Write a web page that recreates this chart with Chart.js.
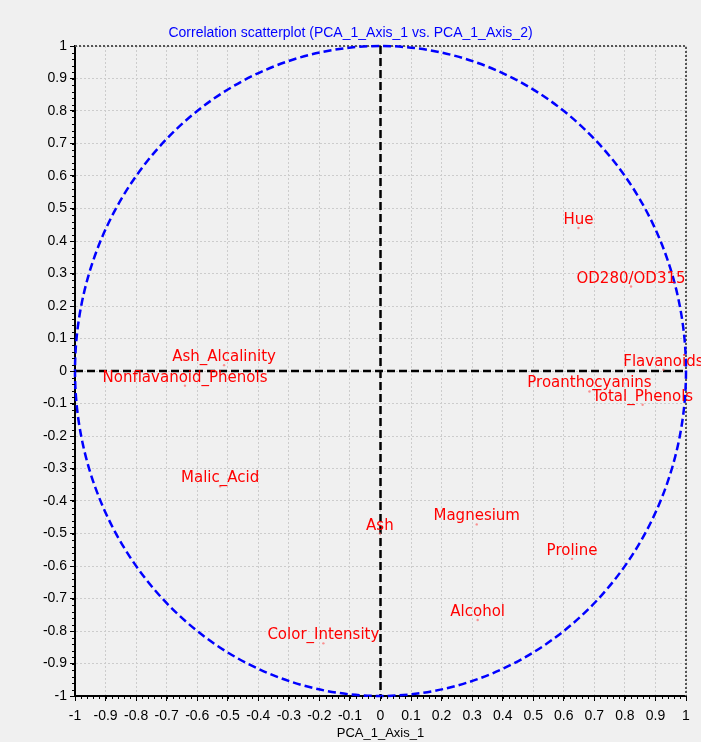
<!DOCTYPE html>
<html>
<head>
<meta charset="utf-8">
<script src="https://cdn.jsdelivr.net/npm/chart.js@4"></script>
<style>
    body { margin: 0; background: #f0f0f0; }
    #wrap { width: 701px; height: 742px; }
</style>
</head>
<body>
<div id="wrap"><canvas id="myChart" width="701" height="742"></canvas></div>
<script>
// variables of the wine dataset and their correlations with the two axes
const variableNames = ['Alcohol', 'Malic_Acid', 'Ash', 'Ash_Alcalinity', 'Magnesium', 'Total_Phenols',
    'Flavanoids', 'Nonflavanoid_Phenols', 'Proanthocyanins', 'Color_Intensity', 'Hue', 'OD280/OD315', 'Proline'];
const axis1Values = [0.318, -0.525, -0.002, -0.512, 0.315, 0.858, 0.926, -0.640, 0.684, -0.187, 0.648, 0.820, 0.627];
const axis2Values = [-0.766, -0.355, -0.500, 0.018, -0.472, -0.104, 0.004, -0.045, -0.063, -0.838, 0.440, 0.260, -0.578];

const tickValues = [-1, -0.9, -0.8, -0.7, -0.6, -0.5, -0.4, -0.3, -0.2, -0.1, 0, 0.1, 0.2, 0.3, 0.4, 0.5, 0.6, 0.7, 0.8, 0.9, 1];
const tickLabels = ['-1', '-0.9', '-0.8', '-0.7', '-0.6', '-0.5', '-0.4', '-0.3', '-0.2', '-0.1', '0',
    '0.1', '0.2', '0.3', '0.4', '0.5', '0.6', '0.7', '0.8', '0.9', '1'];

const ctx = document.getElementById('myChart').getContext('2d');

// circle, zero lines, minor ticks, frame
const decorPlugin = {
    id: 'decor',
    beforeDatasetsDraw(chart) {
        const c = chart.ctx;
        const xs = chart.scales.x, ys = chart.scales.y;
        const a = chart.chartArea;
        const cx = xs.getPixelForValue(0), cy = ys.getPixelForValue(0);
        c.save();
        // frame top / right
        c.strokeStyle = '#555';
        c.lineWidth = 2;
        c.setLineDash([2, 2]);
        c.beginPath();
        c.moveTo(a.left, a.top);
        c.lineTo(a.right, a.top);
        c.lineTo(a.right, a.bottom);
        c.stroke();
        // zero lines
        c.strokeStyle = '#000';
        c.lineWidth = 2.5;
        c.setLineDash([8, 4]);
        c.beginPath();
        c.moveTo(a.left, cy);
        c.lineTo(a.right, cy);
        c.moveTo(cx, a.top);
        c.lineTo(cx, a.bottom);
        c.stroke();
        // unit circle
        c.strokeStyle = '#0000ff';
        c.lineWidth = 2.5;
        c.setLineDash([8, 4]);
        c.beginPath();
        c.ellipse(cx, cy, xs.getPixelForValue(1) - cx, cy - ys.getPixelForValue(1), 0, 0, Math.PI * 2);
        c.stroke();
        c.restore();
    },
    afterDraw(chart) {
        const c = chart.ctx;
        const xs = chart.scales.x, ys = chart.scales.y;
        const a = chart.chartArea;
        c.save();
        c.strokeStyle = '#000';
        c.lineWidth = 1;
        c.beginPath();
        for (let i = -50; i <= 50; i++) {
            const px = Math.round(xs.getPixelForValue(i / 50)) + 0.5;
            c.moveTo(px, a.bottom);
            c.lineTo(px, a.bottom + 3);
            const py = Math.round(ys.getPixelForValue(i / 50)) + 0.5;
            c.moveTo(a.left - 3, py);
            c.lineTo(a.left, py);
        }
        c.stroke();

        // point labels
        const meta = chart.getDatasetMeta(0);
        c.font = '15px "DejaVu Sans"';
        c.fillStyle = '#ff0000';
        c.textAlign = 'center';
        c.textBaseline = 'alphabetic';
        meta.data.forEach((pt, i) => {
            c.fillText(variableNames[i], pt.x, pt.y - 4);
        });
        c.restore();
    }
};

function axisOptions(isX) {
    return {
        type: 'linear',
        min: -1,
        max: 1,
        afterBuildTicks: (scale) => {
            scale.ticks = tickValues.map(v => ({ value: v }));
        },
        afterFit: (scale) => {
            if (isX) scale.height = 46; else scale.width = 75;
        },
        ticks: {
            color: '#000',
            font: { family: '"Liberation Sans", Arial, sans-serif', size: 14 },
            padding: isX ? 7 : 3,
            maxRotation: 0,
            autoSkip: false,
            callback: (v, i) => tickLabels[i]
        },
        grid: {
            color: '#cccccc',
            lineWidth: 1,
            tickColor: '#000',
            tickLength: 5,
            tickWidth: 1
        },
        border: {
            display: true,
            color: '#000',
            width: 2,
            dash: [2, 2]
        },
        title: isX ? {
            display: true,
            text: 'PCA_1_Axis_1',
            color: '#000',
            font: { family: '"Liberation Sans", Arial, sans-serif', size: 13 },
            padding: { top: 0, bottom: 1 }
        } : { display: false }
    };
}

const chartInstance = new Chart(ctx, {
    type: 'scatter',
    data: {
        datasets: [{
            label: 'Variables',
            data: axis1Values.map((v, i) => ({ x: v, y: axis2Values[i] })),
            backgroundColor: 'rgba(255, 80, 80, 0.6)',
            borderWidth: 0,
            pointRadius: 1.2,
            pointHoverRadius: 1.2
        }]
    },
    options: {
        responsive: false,
        animation: false,
        layout: { padding: 0 },
        plugins: {
            legend: { display: false },
            tooltip: { enabled: false },
            title: {
                display: true,
                text: 'Correlation scatterplot (PCA_1_Axis_1 vs. PCA_1_Axis_2)',
                color: '#0000ff',
                font: { family: '"Liberation Sans", Arial, sans-serif', size: 14, weight: 'normal' },
                padding: { top: 24.5, bottom: 4.7 }
            }
        },
        scales: {
            x: axisOptions(true),
            y: axisOptions(false),
            // empty right-hand axis, only keeps the right margin
            yRight: {
                type: 'linear',
                position: 'right',
                min: -1,
                max: 1,
                afterFit: (scale) => { scale.width = 15; },
                ticks: { display: false },
                grid: { display: false, drawOnChartArea: false },
                border: { display: false }
            }
        }
    },
    plugins: [decorPlugin]
});
</script>
</body>
</html>
